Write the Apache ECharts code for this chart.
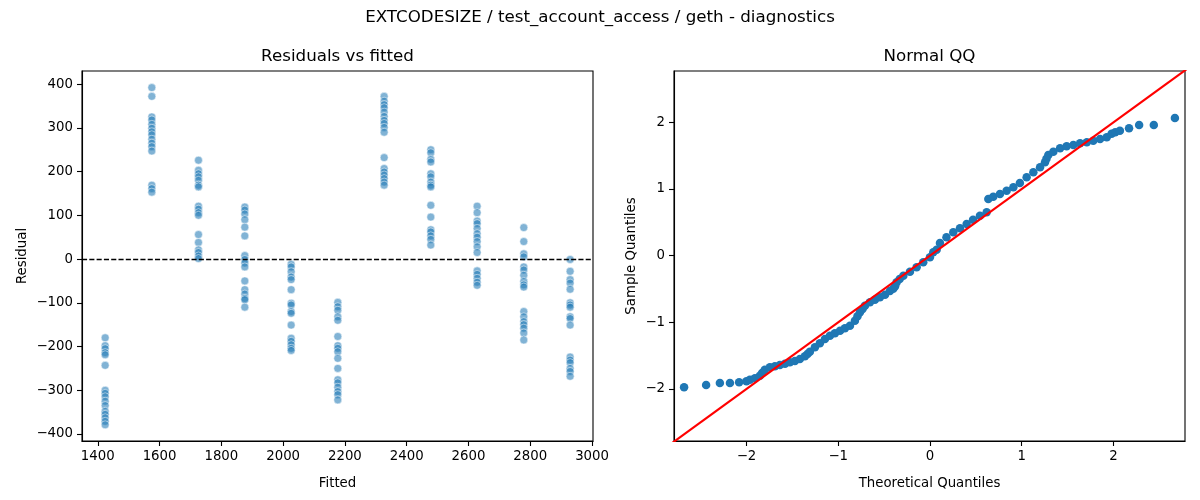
<!DOCTYPE html>
<html><head><meta charset="utf-8">
<script src="https://cdn.jsdelivr.net/npm/echarts@6/dist/echarts.min.js"></script>
<style>html,body{margin:0;padding:0;background:#fff}#c{width:1200px;height:500px}</style>
</head><body><div id="c"></div>
<script>
// ---- data ----
const suptitle = 'EXTCODESIZE / test_account_access / geth - diagnostics';
const fittedLevels = [1424, 1575, 1726, 1876, 2026, 2177, 2327, 2478, 2628, 2779, 2929];
const resid1424 = [-180,-198,-205,-214,-219,-243,-300,-307,-315,-325,-335,-348,-355,-363,-371,-379];
const resid1575 = [392,372,325,318,308,299,291,284,274,265,257,247,169,161,153];
const resid1726 = [226,203,195,188,180,169,165,121,114,106,100,56,38,21,15,7,1];
const resid1876 = [119,112,103,90,73,53,8,-1,-9,-18,-50,-70,-80,-90,-93,-110];
const resid2026 = [-12,-18,-29,-41,-47,-70,-101,-105,-120,-124,-151,-181,-188,-196,-204,-209];
const resid2177 = [-99,-109,-117,-132,-140,-177,-198,-204,-212,-227,-250,-276,-283,-293,-303,-310,-322];
const resid2327 = [372,361,353,346,336,326,317,310,301,290,232,207,199,192,184,176,169];
const resid2478 = [250,243,228,222,195,188,176,169,165,123,96,67,62,53,45,32];
const resid2628 = [121,106,87,81,70,58,50,40,28,15,-27,-35,-44,-53,-60];
const resid2779 = [72,40,12,5,-18,-25,-37,-51,-59,-64,-120,-132,-143,-150,-158,-169,-185];
const resid2929 = [-1,-28,-47,-55,-69,-100,-105,-110,-132,-136,-151,-224,-231,-237,-250,-257,-268];
const residualGroups = [resid1424, resid1575, resid1726, resid1876, resid2026, resid2177,
                        resid2327, resid2478, resid2628, resid2779, resid2929];

const qqTheoretical = [
  -2.68,-2.44,-2.29,-2.18,-2.08,-2.0,-1.963,-1.908,-1.854,-1.83,-1.80,-1.745,-1.69,-1.636,-1.58,-1.527,-1.472,
  -1.418,-1.363,-1.335,-1.309,-1.254,-1.20,-1.145,-1.09,-1.036,-0.98,-0.927,-0.872,-0.818,-0.79,-0.763,-0.735,-0.709,-0.654,
  -0.60,-0.545,-0.49,-0.436,-0.40,-0.38,-0.363,-0.33,-0.29,-0.218,-0.145,-0.073,0.0,0.036,0.073,0.109,0.18,0.254,
  0.327,0.40,0.47,0.545,0.618,0.636,0.69,0.763,0.836,0.909,0.98,1.054,1.127,1.20,1.254,1.27,1.29,1.345,
  1.418,1.49,1.563,1.636,1.71,1.78,1.854,1.927,1.98,2.02,2.07,2.17,2.28,2.44,2.67];
const qqSample = [
  -1.975,-1.94,-1.91,-1.91,-1.90,-1.885,-1.86,-1.84,-1.80,-1.76,-1.71,-1.675,-1.66,-1.64,-1.62,-1.60,-1.58,
  -1.55,-1.51,-1.475,-1.44,-1.375,-1.315,-1.25,-1.20,-1.165,-1.125,-1.09,-1.05,-0.975,-0.91,-0.85,-0.80,-0.75,-0.70,
  -0.66,-0.625,-0.585,-0.53,-0.495,-0.46,-0.40,-0.35,-0.30,-0.24,-0.175,-0.10,-0.025,0.05,0.09,0.19,0.275,0.35,
  0.41,0.475,0.54,0.60,0.65,0.85,0.885,0.925,0.975,1.025,1.09,1.175,1.25,1.325,1.40,1.455,1.51,1.56,
  1.61,1.64,1.66,1.685,1.70,1.725,1.75,1.775,1.83,1.85,1.875,1.91,1.96,1.96,2.065];
const refLineEnds = [-3, 3];

const leftXTicks = [1400,1600,1800,2000,2200,2400,2600,2800,3000];
const leftYTicks = [-400,-300,-200,-100,0,100,200,300,400];
const qqTicks = [-2,-1,0,1,2];

// ---- build ----
const FONT = 'DejaVu Sans';
const fmt = v => (v < 0 ? '\u2212' : '') + Math.abs(v);
const residData = [];
residualGroups.forEach((g, i) => g.forEach(r => residData.push([fittedLevels[i], r])));
const qqData = qqTheoretical.map((t, i) => [t, qqSample[i]]);
const lineData = [[refLineEnds[0], refLineEnds[0]], [refLineEnds[1], refLineEnds[1]]];

function axis(opts) {
  return Object.assign({
    type: 'value',
    scale: false,
    splitLine: {show: false},
    axisLine: {show: true, onZero: false, lineStyle: {color: '#000', width: 1.1}},
    axisTick: {show: true, length: 5, inside: false, customValues: opts.ticks, lineStyle: {color: '#000', width: 1.1}},
    axisLabel: {show: true, customValues: opts.ticks, margin: 9, color: '#000', fontFamily: FONT, fontSize: 13.3,
                formatter: v => fmt(v), showMinLabel: true, showMaxLabel: true},
    nameLocation: 'middle',
    nameTextStyle: {color: '#000', fontFamily: FONT, fontSize: 13.3}
  }, opts.cfg);
}

const chart = echarts.init(document.getElementById('c'), null, {renderer: 'canvas'});
chart.setOption({
  animation: false,
  backgroundColor: '#fff',
  graphic: [
    {type: 'text', x: 600, y: 18, style: {text: suptitle, align: 'center', verticalAlign: 'middle', fontFamily: FONT, fontSize: 16.7, fill: '#000'}},
    {type: 'text', x: 337.5, y: 56.5, style: {text: 'Residuals vs fitted', align: 'center', verticalAlign: 'middle', fontFamily: FONT, fontSize: 16.7, fill: '#000'}},
    {type: 'text', x: 929.5, y: 56.5, style: {text: 'Normal QQ', align: 'center', verticalAlign: 'middle', fontFamily: FONT, fontSize: 16.7, fill: '#000'}}
  ],
  grid: [
    {left: 82, top: 71, width: 511, height: 370, show: true, borderColor: '#000', borderWidth: 1.1, containLabel: false},
    {left: 674, top: 71, width: 511, height: 370, show: true, borderColor: '#000', borderWidth: 1.1, containLabel: false}
  ],
  xAxis: [
    axis({ticks: leftXTicks, cfg: {gridIndex: 0, min: 1349, max: 3003, name: 'Fitted', nameGap: 36}}),
    axis({ticks: qqTicks, cfg: {gridIndex: 1, min: -2.79, max: 2.78, name: 'Theoretical Quantiles', nameGap: 36}})
  ],
  yAxis: [
    axis({ticks: leftYTicks, cfg: {gridIndex: 0, min: -416, max: 430, name: 'Residual', nameGap: 53}}),
    axis({ticks: qqTicks, cfg: {gridIndex: 1, min: -2.78, max: 2.77, name: 'Sample Quantiles', nameGap: 36}})
  ],
  series: [
    {
      type: 'scatter', xAxisIndex: 0, yAxisIndex: 0, data: residData,
      symbol: 'circle', symbolSize: 8,
      itemStyle: {color: 'rgba(31,119,180,0.7)', borderColor: 'rgba(255,255,255,0.8)', borderWidth: 0.8},
      markLine: {
        silent: true, symbol: ['none', 'none'], animation: false,
        label: {show: false},
        lineStyle: {color: '#000', width: 1.4, type: [5.1, 2.2]},
        data: [{yAxis: 0}]
      },
      z: 2
    },
    {
      type: 'scatter', xAxisIndex: 1, yAxisIndex: 1, data: qqData,
      symbol: 'circle', symbolSize: 8.5,
      itemStyle: {color: '#1f77b4', opacity: 1},
      z: 2
    },
    {
      type: 'line', xAxisIndex: 1, yAxisIndex: 1, data: lineData,
      symbol: 'none', clip: true,
      lineStyle: {color: '#ff0000', width: 2.1},
      z: 3
    }
  ]
});
</script></body></html>
